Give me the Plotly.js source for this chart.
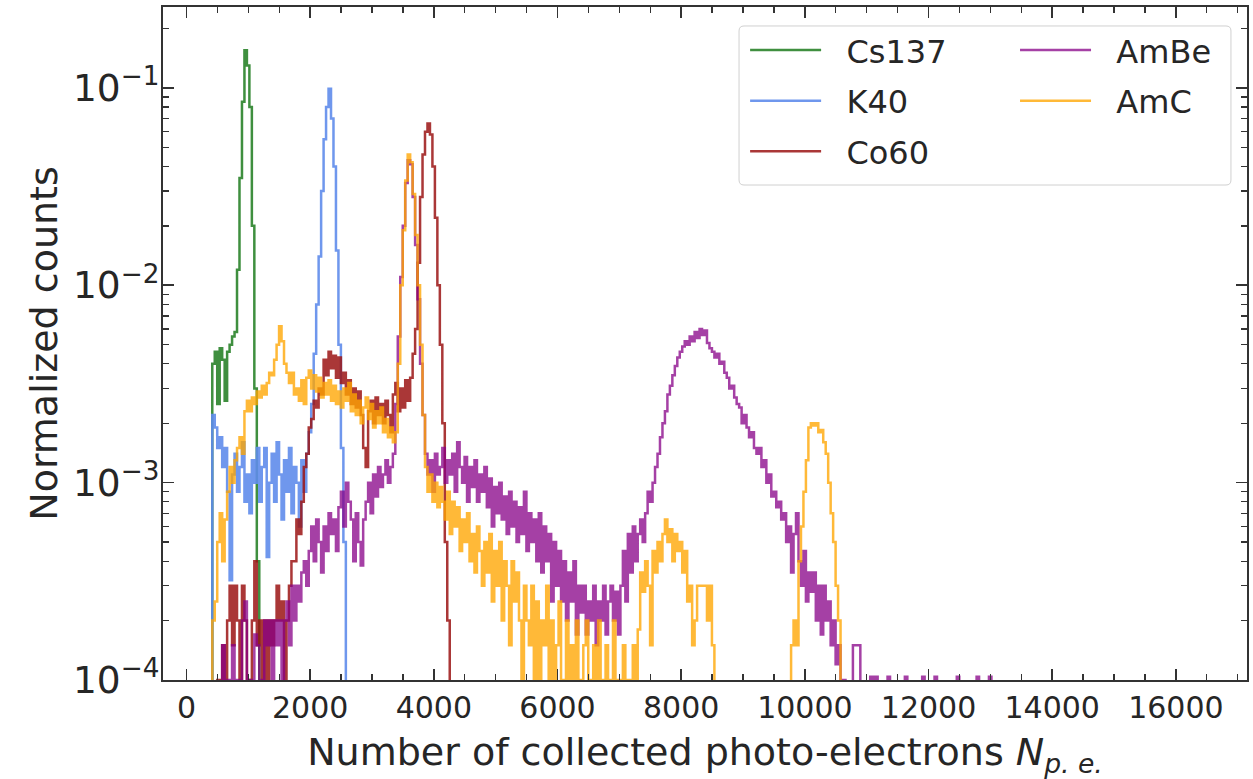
<!DOCTYPE html>
<html>
<head>
<meta charset="utf-8">
<script src="https://cdn.plot.ly/plotly-3.0.1.min.js"></script>
<style>
html,body{margin:0;padding:0;background:#fff;}
#chart{width:1253px;height:779px;}
</style>
</head>
<body>
<div id="chart"></div>
<script>
// Histogram binning (photo-electrons)
const binStart = 417;
const binWidth = 40;

// Normalized counts per bin (0 = empty bin)
const cs137 = [4.0e-3, 4.6e-3, 2.5e-3, 4.8e-3, 4.2e-3, 2.6e-3, 4.6e-3, 5.0e-3, 5.5e-3, 5.8e-3,
  1.2e-2, 3.5e-2, 8.5e-2, 1.55e-1, 1.3e-1, 8.0e-2, 2.0e-2, 3.0e-3, 4.0e-4, 0];

const k40 = [2.2e-3, 1.9e-3, 1.5e-3, 1.7e-3, 1.2e-3, 1.5e-3, 9e-4, 3.2e-4, 1.1e-3, 1.4e-3,
  9e-4, 1.2e-3, 1.6e-3, 8e-4, 1.1e-3, 7e-4, 1.3e-3, 1.0e-3, 1.5e-3, 8e-4,
  1.2e-3, 1.5e-3, 4.2e-4, 1.0e-3, 1.4e-3, 8e-4, 1.6e-3, 1.1e-3, 6.5e-4, 1.3e-3,
  9e-4, 1.5e-3, 7e-4, 1.2e-3, 1.0e-3, 6e-4, 1.3e-3, 9e-4, 1.4e-3, 1.8e-3,
  2.5e-3, 4.5e-3, 8.0e-3, 1.4e-2, 3.0e-2, 5.5e-2, 8.0e-2, 9.9e-2, 7.0e-2, 4.0e-2,
  1.5e-2, 5.0e-3, 1.5e-3, 5e-4, 0];

const co60 = [0, 0, 1.0e-4, 0, 1.5e-4, 0, 2e-4, 3e-4, 1.5e-4, 3e-4,
  2e-4, 1e-4, 3e-4, 2e-4, 1e-4, 0, 2e-4, 4e-4, 1.5e-4, 2e-4,
  1e-4, 2e-4, 1e-4, 2e-4, 1.5e-4, 2e-4, 3e-4, 2e-4, 2.5e-4, 1e-4,
  2e-4, 3e-4, 4e-4, 4e-4, 6.5e-4, 5.5e-4, 8e-4, 1.2e-3, 1.4e-3, 1.9e-3,
  2.1e-3, 2.6e-3, 2.4e-3, 3.0e-3, 2.8e-3, 4.2e-3, 3.5e-3, 4.6e-3, 3.8e-3, 4.4e-3,
  3.4e-3, 4.3e-3, 3.2e-3, 3.6e-3, 2.8e-3, 3.3e-3, 2.5e-3, 3.0e-3, 2.4e-3, 2.9e-3,
  2.2e-3, 1.5e-3, 1.2e-3, 2.3e-3, 2.6e-3, 2.0e-3, 2.7e-3, 2.2e-3, 2.5e-3, 2.0e-3,
  2.6e-3, 2.2e-3, 1.8e-3, 2.8e-3, 3.2e-3, 2.3e-3, 3.0e-3, 2.4e-3, 3.3e-3, 2.6e-3,
  3.4e-3, 4.5e-3, 6.0e-3, 1.3e-2, 2.8e-2, 4.6e-2, 6.0e-2, 6.6e-2, 5.8e-2, 4.0e-2,
  2.2e-2, 1.0e-2, 5.0e-3, 2.0e-3, 5e-4, 2e-4, 0];

const ambe = [0, 0, 0, 0, 1.5e-4, 1e-4, 0, 1e-4, 1.5e-4, 0,
  1e-4, 0, 2e-4, 2.5e-4, 1e-4, 0, 1e-4, 1.7e-4, 1.5e-4, 0,
  1e-4, 2e-4, 1.5e-4, 2e-4, 0, 2e-4, 1.5e-4, 2e-4, 1e-4, 2e-4,
  2.5e-4, 1.5e-4, 3e-4, 2e-4, 3e-4, 2.5e-4, 3.5e-4, 4e-4, 3e-4, 4.5e-4,
  6e-4, 4e-4, 6.5e-4, 5e-4, 3.5e-4, 6e-4, 4.5e-4, 7e-4, 5.5e-4, 6.5e-4,
  4.5e-4, 7.5e-4, 9e-4, 6e-4, 1.0e-3, 8e-4, 6.5e-4, 4e-4, 7e-4, 5e-4,
  3.8e-4, 6.5e-4, 8e-4, 1.0e-3, 7e-4, 1.1e-3, 8.5e-4, 1.2e-3, 9.5e-4, 1.1e-3,
  1.3e-3, 1.0e-3, 1.2e-3, 1.4e-3, 2.5e-3, 5.5e-3, 1.1e-2, 2.0e-2, 3.3e-2, 4.3e-2,
  4.1e-2, 2.8e-2, 1.6e-2, 8.5e-3, 4.0e-3, 2.2e-3, 1.4e-3, 1.1e-3, 1.3e-3, 9e-4,
  1.4e-3, 1.1e-3, 1.2e-3, 1.5e-3, 1.0e-3, 1.3e-3, 1.1e-3, 1.4e-3, 9e-4, 1.6e-3,
  1.2e-3, 1.0e-3, 1.35e-3, 8e-4, 1.2e-3, 9.5e-4, 1.3e-3, 8e-4, 1.1e-3, 9e-4,
  1.2e-3, 7.5e-4, 1.05e-3, 6e-4, 9.5e-4, 7e-4, 1.0e-3, 6.5e-4, 8.5e-4, 5.5e-4,
  9e-4, 6e-4, 8e-4, 5e-4, 7.5e-4, 5.5e-4, 9e-4, 4.5e-4, 7e-4, 5e-4,
  6.5e-4, 4e-4, 7e-4, 3.5e-4, 6e-4, 4e-4, 5.5e-4, 2.5e-4, 5e-4, 3e-4,
  4.5e-4, 2.5e-4, 4e-4, 2e-4, 3.5e-4, 2.5e-4, 4e-4, 1.7e-4, 3e-4, 2.2e-4,
  3e-4, 1.7e-4, 2.5e-4, 2e-4, 3e-4, 1.5e-4, 2.5e-4, 2e-4, 3e-4, 1.7e-4,
  2.5e-4, 3e-4, 2e-4, 2.8e-4, 1.7e-4, 3e-4, 4.5e-4, 2.5e-4, 5.5e-4, 3.5e-4,
  6e-4, 4e-4, 5.5e-4, 6.5e-4, 5e-4, 7e-4, 9e-4, 8e-4, 1.0e-3, 1.2e-3,
  1.4e-3, 1.7e-3, 2.0e-3, 2.3e-3, 2.8e-3, 3.1e-3, 3.5e-3, 3.9e-3, 4.3e-3, 4.6e-3,
  4.9e-3, 5.2e-3, 5.0e-3, 5.5e-3, 5.2e-3, 5.8e-3, 5.4e-3, 6.0e-3, 5.6e-3, 5.9e-3,
  5.1e-3, 4.8e-3, 4.6e-3, 4.3e-3, 4.5e-3, 4.0e-3, 4.1e-3, 3.6e-3, 3.4e-3, 3.0e-3,
  3.1e-3, 2.7e-3, 2.5e-3, 2.4e-3, 2.0e-3, 2.2e-3, 1.9e-3, 1.7e-3, 1.8e-3, 1.5e-3,
  1.4e-3, 1.5e-3, 1.2e-3, 1.3e-3, 1.0e-3, 1.1e-3, 8.5e-4, 9e-4, 7.5e-4, 8e-4,
  6.5e-4, 7e-4, 5e-4, 6e-4, 3.5e-4, 5.5e-4, 7e-4, 4e-4, 3e-4, 4.5e-4,
  2.5e-4, 3.5e-4, 2.8e-4, 3.5e-4, 2e-4, 3e-4, 1.7e-4, 3e-4, 2e-4, 2.5e-4,
  1.5e-4, 2e-4, 1.2e-4, 1.5e-4, 0, 1e-4, 0, 0, 0, 1.5e-4,
  1.5e-4, 1.5e-4, 0, 0, 0, 0, 1.04e-4, 0, 1.04e-4, 0,
  0, 0, 0, 1.04e-4, 0, 0, 0, 0, 0, 0,
  1.04e-4, 0, 0, 0, 0, 0, 0, 1.04e-4, 0, 0,
  0, 0, 1.04e-4, 0, 0, 0, 0, 0, 0, 0,
  0, 1.04e-4, 0, 0, 0, 0, 0, 0, 0, 1.04e-4,
  0, 0, 0, 0, 1.04e-4, 0];

const amc = [2e-4, 2.5e-4, 5e-4, 7e-4, 4e-4, 6.5e-4, 9e-4, 1.2e-3, 1.0e-3, 1.3e-3,
  1.5e-3, 1.7e-3, 1.4e-3, 2.3e-3, 2.6e-3, 2.3e-3, 2.7e-3, 2.5e-3, 2.9e-3, 2.7e-3,
  3.1e-3, 2.8e-3, 3.2e-3, 3.6e-3, 3.5e-3, 4.2e-3, 5.0e-3, 6.2e-3, 5.2e-3, 4.0e-3,
  3.6e-3, 3.2e-3, 3.6e-3, 2.8e-3, 3.0e-3, 2.6e-3, 3.3e-3, 2.5e-3, 3.4e-3, 3.7e-3,
  3.0e-3, 3.5e-3, 2.9e-3, 3.4e-3, 2.7e-3, 3.2e-3, 2.8e-3, 3.3e-3, 2.6e-3, 3.1e-3,
  2.5e-3, 2.9e-3, 2.4e-3, 3.0e-3, 2.6e-3, 3.2e-3, 2.3e-3, 2.8e-3, 2.2e-3, 2.6e-3,
  2.0e-3, 2.4e-3, 2.7e-3, 2.1e-3, 2.5e-3, 1.9e-3, 2.3e-3, 2.0e-3, 2.4e-3, 1.8e-3,
  2.1e-3, 1.7e-3, 1.9e-3, 1.6e-3, 1.8e-3, 4.0e-3, 1.0e-2, 1.9e-2, 3.4e-2, 4.6e-2,
  4.2e-2, 2.9e-2, 1.8e-2, 1.0e-2, 5.0e-3, 2.2e-3, 1.2e-3, 9e-4, 1.1e-3, 8e-4,
  1.0e-3, 7.5e-4, 9.5e-4, 8e-4, 6.5e-4, 9e-4, 5.5e-4, 8e-4, 6e-4, 7.5e-4,
  4.5e-4, 6.5e-4, 5e-4, 7e-4, 4e-4, 5.5e-4, 3.5e-4, 6e-4, 4.5e-4, 3e-4,
  5e-4, 3.5e-4, 5.5e-4, 2.5e-4, 4.5e-4, 3e-4, 5e-4, 2e-4, 4e-4, 3e-4,
  1.5e-4, 4e-4, 2.5e-4, 3.5e-4, 2e-4, 0, 3e-4, 2e-4, 1.5e-4, 3e-4,
  1e-4, 2.5e-4, 0, 2e-4, 1.5e-4, 3e-4, 1e-4, 2e-4, 0, 1.5e-4,
  2.5e-4, 1e-4, 0, 2e-4, 1e-4, 1.5e-4, 0, 2e-4, 1e-4, 0,
  1.5e-4, 2e-4, 0, 1e-4, 1.5e-4, 0, 2e-4, 1e-4, 0, 1.5e-4,
  0, 1e-4, 2e-4, 0, 1e-4, 0, 1.5e-4, 0, 1e-4, 0,
  1.5e-4, 1e-4, 1.8e-4, 3.5e-4, 2.8e-4, 4e-4, 3e-4, 1.5e-4, 4.5e-4, 3.5e-4,
  5e-4, 4e-4, 5.5e-4, 6.5e-4, 5e-4, 5.8e-4, 4e-4, 5.5e-4, 4.5e-4, 5e-4,
  3.5e-4, 4.5e-4, 2.5e-4, 3e-4, 1.5e-4, 2e-4, 3e-4, 3e-4, 3e-4, 3e-4,
  2e-4, 3e-4, 1.5e-4, 0, 0, 0, 0, 0, 0, 0,
  0, 0, 0, 0, 0, 0, 0, 0, 0, 0,
  0, 0, 0, 0, 0, 0, 0, 0, 0, 0,
  0, 0, 0, 0, 1.5e-4, 2e-4, 1.5e-4, 4e-4, 6e-4, 9e-4,
  1.3e-3, 1.9e-3, 2.0e-3, 1.95e-3, 2.0e-3, 1.8e-3, 1.85e-3, 1.6e-3, 1.4e-3, 1.0e-3,
  7e-4, 5e-4, 3e-4, 2e-4, 0];

const seriesNames = ['Cs137', 'K40', 'Co60', 'AmBe', 'AmC'];
const seriesValues = [cs137, k40, co60, ambe, amc];
const seriesColors = ['rgba(15,115,15,0.8)', 'rgba(95,140,235,0.9)', 'rgba(155,20,20,0.85)',
                      'rgba(135,0,135,0.75)', 'rgba(255,165,0,0.78)'];
const seriesLegend = ['legend', 'legend', 'legend', 'legend2', 'legend2'];

const FLOOR = 1e-9; // empty bins drop below the visible axis range
function stepXY(vals) {
  const x = [binStart], y = [FLOOR];
  for (let i = 0; i < vals.length; i++) {
    x.push(binStart + binWidth * i);
    y.push(vals[i] > 0 ? vals[i] : FLOOR);
  }
  x.push(binStart + binWidth * vals.length);
  y.push(FLOOR);
  return {x, y};
}

const NB = '\u00a0\u00a0';
const traces = seriesNames.map((name, k) => {
  const s = stepXY(seriesValues[k]);
  return {
    type: 'scatter', mode: 'lines', x: s.x, y: s.y,
    name: NB + name, legend: seriesLegend[k], legendgroup: name,
    line: {shape: 'hv', color: seriesColors[k], width: 2.5, simplify: false},
    hoverinfo: 'skip'
  };
});

const axisCol = '#333333';
const txtCol = '#262626';
const FONT = 'DejaVu Sans, sans-serif';

const legendCommon = {
  y: 0.9765, yanchor: 'top', xanchor: 'left', orientation: 'v',
  bgcolor: 'rgba(0,0,0,0)', borderwidth: 0,
  font: {family: FONT, size: 32, color: txtCol},
  itemwidth: 71, tracegroupgap: 6, traceorder: 'grouped'
};

// rounded legend frame (paper coords)
const bx0 = 0.5314, bx1 = 0.9852, by0 = 0.7355, by1 = 0.9718, rx = 0.0046, ry = 0.0074;
const boxPath = `M${bx0+rx},${by1} L${bx1-rx},${by1} Q${bx1},${by1} ${bx1},${by1-ry} L${bx1},${by0+ry} Q${bx1},${by0} ${bx1-rx},${by0} L${bx0+rx},${by0} Q${bx0},${by0} ${bx0},${by0+ry} L${bx0},${by1-ry} Q${bx0},${by1} ${bx0+rx},${by1} Z`;

const layout = {
  width: 1253, height: 779,
  margin: {l: 163, r: 6, t: 7, b: 99},
  paper_bgcolor: '#ffffff', plot_bgcolor: '#ffffff',
  font: {family: FONT, color: txtCol},
  showlegend: true,
  xaxis: {
    range: [-380, 17150], tick0: 0, dtick: 2000, tickformat: 'd',
    ticks: 'inside', ticklen: 11, tickwidth: 1.6, tickcolor: axisCol,
    showline: true, linecolor: axisCol, linewidth: 1.6, mirror: 'allticks',
    showgrid: false, zeroline: false, automargin: false,
    tickfont: {family: FONT, size: 30, color: txtCol}, ticklabelstandoff: 0,
    minor: {dtick: 500, tick0: 0, ticks: 'inside', ticklen: 6, tickwidth: 1.3, tickcolor: axisCol, showgrid: false},
    title: {text: 'Number of collected photo-electrons <i>N</i><sub><i>p. e.</i></sub>',
            font: {family: FONT, size: 38, color: txtCol}, standoff: 16}
  },
  yaxis: {
    type: 'log', range: [-4, -0.59], dtick: 1, exponentformat: 'power',
    ticks: 'inside', ticklen: 11, tickwidth: 1.6, tickcolor: axisCol,
    showline: true, linecolor: axisCol, linewidth: 1.6, mirror: 'allticks',
    showgrid: false, zeroline: false, automargin: false,
    tickfont: {family: FONT, size: 30, color: txtCol}, ticklabelstandoff: -4,
    minor: {dtick: 'D1', ticks: 'inside', ticklen: 6, tickwidth: 1.3, tickcolor: axisCol, showgrid: false},
    title: {text: 'Normalized counts', font: {family: FONT, size: 38, color: txtCol}, standoff: 3}
  },
  legend: Object.assign({}, legendCommon, {x: 0.537}),
  legend2: Object.assign({}, legendCommon, {x: 0.786}),
  shapes: [{
    type: 'path', xref: 'paper', yref: 'paper', path: boxPath, layer: 'above',
    fillcolor: 'rgba(255,255,255,0.8)', line: {color: '#d0d0d0', width: 1}
  }]
};

Plotly.newPlot('chart', traces, layout, {staticPlot: true, displayModeBar: false});
</script>
</body>
</html>
